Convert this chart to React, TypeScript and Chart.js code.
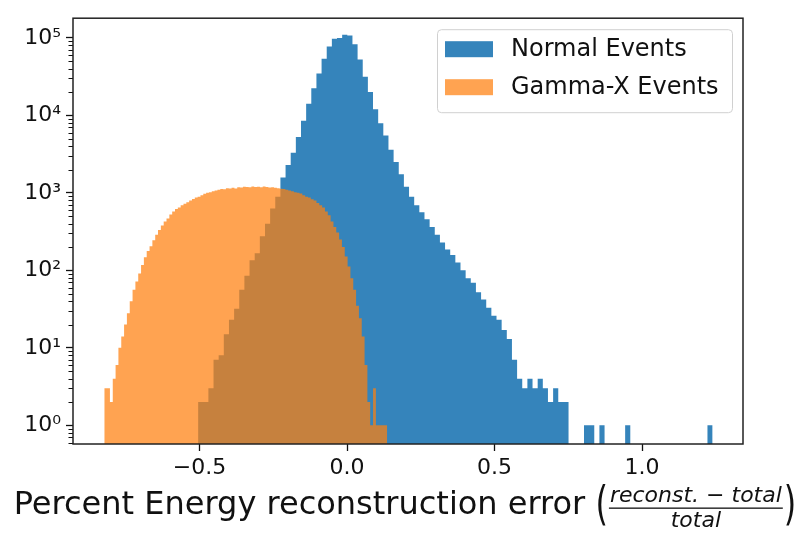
import React, { useEffect, useRef } from "react";
import { Chart, registerables } from "chart.js";

Chart.register(...registerables);

const normalLabel = "Normal Events";
const gammaLabel = "Gamma-X Events";

// histogram bin ranges (first edge, last edge); 100 equal bins each
const normalBinRange = [-0.505, 1.239];
const gammaBinRange = [-0.823, 0.136];

const normalCounts = [
  2, 2, 3, 7, 8, 15, 23, 32, 56, 85,
  135, 166, 275, 400, 630, 890, 1580, 2290, 3300, 5250,
  8500, 14100, 22400, 34700, 53700, 77600, 97700, 100000, 110000, 107000,
  83000, 52500, 31600, 20000, 12000, 7900, 5500, 3600, 2500, 1740,
  1200, 890, 690, 560, 457, 363, 288, 229, 186, 158,
  126, 100, 79, 69, 52, 42, 33, 26, 23, 17,
  13, 7, 4, 3, 4, 3, 4, 3, 2, 3,
  2, 2, 0, 0, 0, 1, 1, 0, 1, 0,
  0, 0, 0, 1, 0, 0, 0, 0, 0, 0,
  0, 0, 0, 0, 0, 0, 0, 0, 0, 1,
];

const gammaCounts = [
  3, 3, 2, 4, 6, 10, 14, 20, 28, 40,
  56, 72, 91, 117, 148, 178, 204, 245, 288, 331,
  380, 427, 468, 525, 575, 617, 646, 692, 724, 759,
  794, 832, 871, 891, 933, 977, 1000, 1020, 1050, 1070,
  1100, 1120, 1110, 1150, 1140, 1160, 1140, 1180, 1170, 1200,
  1190, 1180, 1210, 1190, 1200, 1180, 1210, 1190, 1170, 1180,
  1160, 1150, 1130, 1120, 1100, 1070, 1050, 1020, 1000, 980,
  930, 890, 870, 830, 794, 741, 692, 646, 575, 513,
  427, 363, 309, 251, 200, 151, 112, 79, 56, 35,
  24, 14, 6, 2, 1, 3, 1, 1, 1, 1,
];

const xTickValues = [-0.5, 0.0, 0.5, 1.0];
const yDecadeExponents = [0, 1, 2, 3, 4, 5];
const yMinorExponents = [-1, 0, 1, 2, 3, 4, 5];
const xAxisLimits = [-0.929, 1.342];
const yAxisLimits = [0.574, 179500];

const xTitleMain = "Percent Energy reconstruction error";
const xTitleNumerator = "reconst. \u2212 total";
const xTitleDenominator = "total";

const BLUE = "rgba(31,119,180,0.9)";
const ORANGE = "rgba(255,127,14,0.72)";
const FONT = '"DejaVu Sans", sans-serif';
const SUP = "\u2070\u00b9\u00b2\u00b3\u2074\u2075\u2076\u2077\u2078\u2079";

// Step outline of a histogram: one point per bin's left edge plus the last edge.
// Empty bins are sent to the axis floor so the outline stays continuous.
function toSteps(range: number[], counts: number[]) {
  const n = counts.length;
  const w = (range[1] - range[0]) / n;
  const floor = yAxisLimits[0];
  const pts = counts.map((c, i) => ({ x: range[0] + i * w, y: c > 0 ? c : floor }));
  pts.push({ x: range[1], y: counts[n - 1] > 0 ? counts[n - 1] : floor });
  return pts;
}

function supExp(e: number) {
  const s = String(Math.abs(e));
  let out = e < 0 ? "\u207b" : "";
  for (const ch of s) out += SUP[Number(ch)];
  return out;
}

const decorPlugin = {
  id: "mplDecor",
  afterDatasetsDraw(chart: any) {
    const { ctx, chartArea: a, scales } = chart;
    const y = scales.y;
    ctx.save();
    // minor log ticks
    ctx.strokeStyle = "#111";
    ctx.lineWidth = 1;
    for (const e of yMinorExponents) {
      for (let k = 2; k <= 9; k++) {
        const v = k * Math.pow(10, e);
        if (v < y.min || v > y.max) continue;
        const py = Math.round(y.getPixelForValue(v)) + 0.5;
        ctx.beginPath();
        ctx.moveTo(a.left - 4.5, py);
        ctx.lineTo(a.left, py);
        ctx.stroke();
      }
    }
    // frame
    ctx.lineWidth = 1.5;
    ctx.strokeStyle = "#222";
    ctx.strokeRect(a.left, a.top, a.right - a.left, a.bottom - a.top);

    // legend
    const lw = 295;
    const lh = 83;
    const lx = a.right - 11 - lw;
    const ly = a.top + 11;
    ctx.beginPath();
    if (ctx.roundRect) ctx.roundRect(lx + 0.5, ly + 0.5, lw, lh, 4);
    else ctx.rect(lx + 0.5, ly + 0.5, lw, lh);
    ctx.fillStyle = "rgba(255,255,255,0.8)";
    ctx.fill();
    ctx.strokeStyle = "#d0d0d0";
    ctx.lineWidth = 1;
    ctx.stroke();
    chart.data.datasets.forEach((ds: any, i: number) => {
      const cy = ly + 20 + i * 38;
      ctx.fillStyle = ds.backgroundColor;
      ctx.fillRect(lx + 8, cy - 8, 48, 16);
      ctx.fillStyle = "#111";
      ctx.font = `24px ${FONT}`;
      ctx.textBaseline = "middle";
      ctx.textAlign = "left";
      ctx.fillText(ds.label, lx + 74, cy + 1);
    });
    ctx.restore();
  },
  afterDraw(chart: any) {
    const { ctx, chartArea: a } = chart;
    ctx.save();
    ctx.fillStyle = "#111";
    ctx.textAlign = "left";
    ctx.textBaseline = "alphabetic";
    const cx = (a.left + a.right) / 2;
    ctx.font = `32px ${FONT}`;
    const mainText = xTitleMain + " ";
    const mainW = ctx.measureText(mainText).width;
    const parenW = ctx.measureText("(").width;
    ctx.font = `italic 22px ${FONT}`;
    const numW = ctx.measureText(xTitleNumerator).width;
    const denW = ctx.measureText(xTitleDenominator).width;
    const fracW = Math.max(numW, denW) + 4;
    const total = mainW + parenW + fracW + parenW;
    let x = cx - total / 2 - 3;
    ctx.font = `32px ${FONT}`;
    ctx.fillText(mainText, x, 514);
    x += mainW;
    const drawParen = (ch: string, px: number) => {
      ctx.save();
      ctx.translate(px, 507);
      ctx.scale(1, 1.45);
      ctx.font = `32px ${FONT}`;
      ctx.textBaseline = "middle";
      ctx.fillText(ch, 0, 0);
      ctx.restore();
    };
    drawParen("(", x);
    x += parenW;
    ctx.font = `italic 22px ${FONT}`;
    ctx.fillText(xTitleNumerator, x + (fracW - numW) / 2, 502);
    ctx.fillText(xTitleDenominator, x + (fracW - denW) / 2, 527);
    ctx.fillRect(x + 1, 507.5, fracW - 2, 1.3);
    x += fracW;
    drawParen(")", x);
    ctx.restore();
  },
};

export default function App() {
  const ref = useRef<HTMLCanvasElement>(null);
  useEffect(() => {
    Chart.defaults.font.family = FONT;
    const chart = new Chart(ref.current as HTMLCanvasElement, {
      type: "line",
      data: {
        datasets: [
          {
            label: normalLabel,
            data: toSteps(normalBinRange, normalCounts),
            backgroundColor: BLUE,
            borderColor: "transparent",
            borderWidth: 0,
            pointRadius: 0,
            fill: "start",
            stepped: true,
            order: 2,
          },
          {
            label: gammaLabel,
            data: toSteps(gammaBinRange, gammaCounts),
            backgroundColor: ORANGE,
            borderColor: "transparent",
            borderWidth: 0,
            pointRadius: 0,
            fill: "start",
            stepped: true,
            order: 1,
          },
        ] as any,
      },
      options: {
        animation: false,
        responsive: true,
        maintainAspectRatio: false,
        events: [],
        layout: { padding: { top: 11, right: 63, left: 0, bottom: 0 } },
        plugins: { legend: { display: false }, tooltip: { enabled: false } },
        scales: {
          x: {
            type: "linear",
            min: xAxisLimits[0],
            max: xAxisLimits[1],
            afterBuildTicks: (scale: any) => {
              scale.ticks = xTickValues.map((v) => ({ value: v }));
            },
            afterFit: (scale: any) => {
              scale.height = 95;
            },
            grid: { display: true, drawOnChartArea: false, drawTicks: true, tickLength: 7, tickColor: "#111", tickWidth: 1.3 },
            border: { display: false },
            ticks: {
              autoSkip: false,
              maxRotation: 0,
              padding: 4,
              color: "#111",
              font: { size: 22, family: FONT },
              callback: (v: any) => (Number(v) < 0 ? "\u2212" : "") + Math.abs(Number(v)).toFixed(1),
            },
          },
          y: {
            type: "logarithmic",
            min: yAxisLimits[0],
            max: yAxisLimits[1],
            afterBuildTicks: (scale: any) => {
              scale.ticks = yDecadeExponents.map((e) => ({ value: Math.pow(10, e), major: true }));
            },
            afterFit: (scale: any) => {
              scale.width = 73;
            },
            grid: { display: true, drawOnChartArea: false, drawTicks: true, tickLength: 7, tickColor: "#111", tickWidth: 1.3 },
            border: { display: false },
            ticks: {
              autoSkip: false,
              padding: 5,
              color: "#111",
              font: { size: 22, family: FONT },
              callback: (v: any) => "10" + supExp(Math.round(Math.log10(Number(v)))),
            },
          },
        },
      } as any,
      plugins: [decorPlugin],
    });
    return () => chart.destroy();
  }, []);
  return (
    <div style={{ position: "absolute", left: 0, top: 0, width: 806, height: 539 }}>
      <canvas ref={ref} />
    </div>
  );
}
